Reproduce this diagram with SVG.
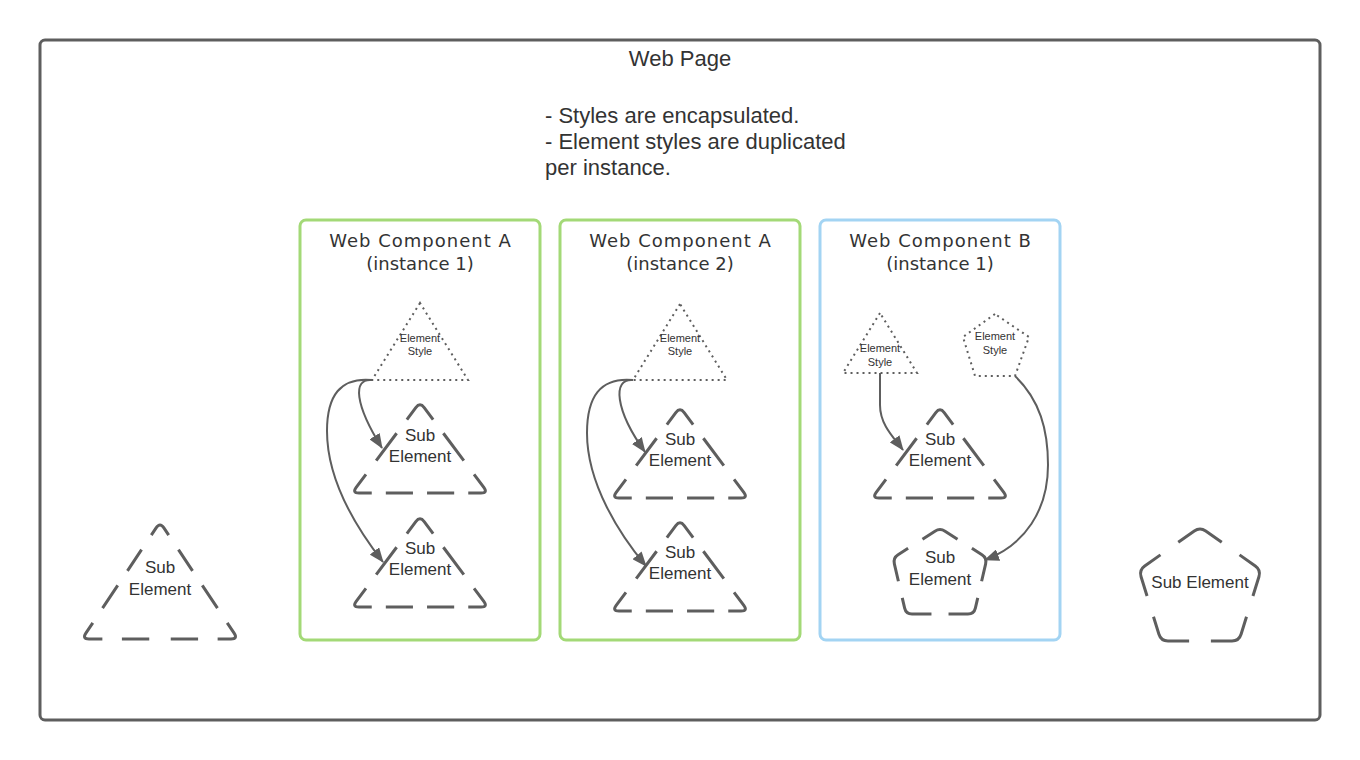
<svg xmlns="http://www.w3.org/2000/svg" width="1360" height="760" viewBox="0 0 1360 760">
<style>
.frame{fill:#ffffff;stroke:#5e5e5e;stroke-width:3}
.compA{fill:#ffffff;stroke:#a3d977;stroke-width:3}
.compB{fill:#ffffff;stroke:#a3d4f3;stroke-width:3}
.dash{fill:none;stroke:#5e5e5e;stroke-width:3;stroke-linecap:butt}
.dot{fill:none;stroke:#5e5e5e;stroke-width:2;stroke-dasharray:2 4}
.conn{fill:none;stroke:#5e5e5e;stroke-width:2;marker-end:url(#arr)}
.t{font-family:"Liberation Sans",Arial,sans-serif;fill:#333333;text-anchor:middle}
.big{font-size:22px}
.lbl{font-size:17px}
.sm{font-size:11px}
.hd{font-family:"DejaVu Sans","Liberation Sans",sans-serif;font-size:18px;fill:#333333;text-anchor:middle}
.ls{letter-spacing:1px}
</style>
<defs>
<marker id="arr" viewBox="0 0 15 12" refX="14" refY="6" markerWidth="15" markerHeight="12" markerUnits="userSpaceOnUse" orient="auto"><path d="M0,0 L15,6 L0,12 Z" fill="#5e5e5e"/></marker>
<path id="triS" class="dash" pathLength="348" stroke-dasharray="20 17 34 17 38 14 27 14 27 14 38 17 34 17 20" d="M0,2.8 Q-2.1,2.8 -4.19,5.61 L-63.81,85.39 Q-68,91 -61,91 L61,91 Q68,91 63.81,85.39 L4.19,5.61 Q2.1,2.8 0,2.8 Z"/>
</defs>
<rect width="1360" height="760" fill="#ffffff"/>
<g id="web-page">
<rect class="frame" x="40" y="40" width="1280" height="680" rx="5"/>
<text class="t big" x="680" y="65.5">Web Page</text>
<text class="t big" x="545" y="122.5" style="text-anchor:start">- Styles are encapsulated.</text>
<text class="t big" x="545" y="148.5" style="text-anchor:start">- Element styles are duplicated</text>
<text class="t big" x="545" y="175" style="text-anchor:start">per instance.</text>
</g>
<g id="component-a1">
<rect class="compA" x="300" y="220" width="240" height="420" rx="6"/>
<text class="hd ls" x="420.5" y="247">Web Component A</text>
<text class="hd" x="420" y="270">(instance 1)</text>
</g>
<g id="component-a2">
<rect class="compA" x="560" y="220" width="240" height="420" rx="6"/>
<text class="hd ls" x="680.5" y="247">Web Component A</text>
<text class="hd" x="680" y="270">(instance 2)</text>
</g>
<g id="component-b1">
<rect class="compB" x="820" y="220" width="240" height="420" rx="6"/>
<text class="hd ls" x="940.5" y="247">Web Component B</text>
<text class="hd" x="940" y="270">(instance 1)</text>
</g>
<g id="a1-style">
<polygon class="dot" points="420,303 372,380 468,380"/>
<text class="t sm" x="420" y="342">Element</text>
<text class="t sm" x="420" y="355">Style</text>
</g>
<g id="a1-sub1">
<use href="#triS" x="420" y="402"/>
<text class="t lbl" x="420" y="441">Sub</text>
<text class="t lbl" x="420" y="462">Element</text>
</g>
<g id="a1-sub2">
<use href="#triS" x="420" y="516"/>
<text class="t lbl" x="420" y="554">Sub</text>
<text class="t lbl" x="420" y="575">Element</text>
</g>
<g id="a2-style">
<polygon class="dot" points="680,304 633,380 727,380"/>
<text class="t sm" x="680" y="342">Element</text>
<text class="t sm" x="680" y="355">Style</text>
</g>
<g id="a2-sub1">
<use href="#triS" x="680" y="407"/>
<text class="t lbl" x="680" y="445">Sub</text>
<text class="t lbl" x="680" y="466">Element</text>
</g>
<g id="a2-sub2">
<use href="#triS" x="680" y="520"/>
<text class="t lbl" x="680" y="558">Sub</text>
<text class="t lbl" x="680" y="579">Element</text>
</g>
<g id="b1-style-tri">
<polygon class="dot" points="880,313 843,373 917,373"/>
<text class="t sm" x="880" y="352">Element</text>
<text class="t sm" x="880" y="365.5">Style</text>
</g>
<g id="b1-style-pent">
<polygon class="dot" points="995,314 963,337 975,376 1015,376 1029,337"/>
<text class="t sm" x="995" y="340">Element</text>
<text class="t sm" x="995" y="353.5">Style</text>
</g>
<g id="b1-sub-tri">
<use href="#triS" x="940" y="407"/>
<text class="t lbl" x="940" y="445">Sub</text>
<text class="t lbl" x="940" y="466">Element</text>
</g>
<g id="b1-sub-pent">
<path class="dash" pathLength="285" stroke-dasharray="20 17 40 17 40 17 40 17 40 17 20" d="M940,529.62 Q937.47,529.62 934.94,531.23 L898.06,554.77 Q893,558 894.36,563.84 L904.64,608.16 Q906,614 912,614 L968,614 Q974,614 975.36,608.16 L985.64,563.84 Q987,558 981.94,554.77 L945.06,531.23 Q942.53,529.62 940,529.62 Z"/>
<text class="t lbl" x="940" y="563">Sub</text>
<text class="t lbl" x="940" y="585">Element</text>
</g>
<g id="left-sub">
<path class="dash" pathLength="434" stroke-dasharray="14 18 26 18 28 18 36 20 28 22 28 20 36 18 28 18 26 18 14" transform="translate(160,522)" d="M0,2.91 Q-1.94,2.91 -3.88,5.82 L-74.12,111.18 Q-78,117 -71,117 L71,117 Q78,117 74.12,111.18 L3.88,5.82 Q1.94,2.91 0,2.91 Z"/>
<text class="t lbl" x="160" y="573">Sub</text>
<text class="t lbl" x="160" y="595">Element</text>
</g>
<g id="right-sub">
<path class="dash" pathLength="370" stroke-dasharray="26 22 52 22 52 22 52 22 52 22 26" d="M1200,529.02 Q1197.14,529.02 1194.28,531.03 L1144.72,565.97 Q1139,570 1141.07,576.69 L1158.93,634.31 Q1161,641 1168,641 L1232,641 Q1239,641 1241.07,634.31 L1258.93,576.69 Q1261,570 1255.28,565.97 L1205.72,531.03 Q1202.86,529.02 1200,529.02 Z"/>
<text class="t lbl" x="1200" y="588">Sub Element</text>
</g>
<g id="connectors">
<path class="conn" d="M372,380 C352,378 355,405 382,448"/>
<path class="conn" d="M372,380 C340,377 327,396 327,431 C327,481 358,530 383,562"/>
<path class="conn" d="M633,380 C612,378 615,410 645,452"/>
<path class="conn" d="M633,380 C600,377 587,397 587,433 C587,484 620,535 646,566"/>
<path class="conn" d="M880,373 L880,405 C880,425 894,438 903,450"/>
<path class="conn" d="M1015,376 C1040,400 1048,430 1048,465 C1048,510 1025,545 985,560"/>
</g>
</svg>
